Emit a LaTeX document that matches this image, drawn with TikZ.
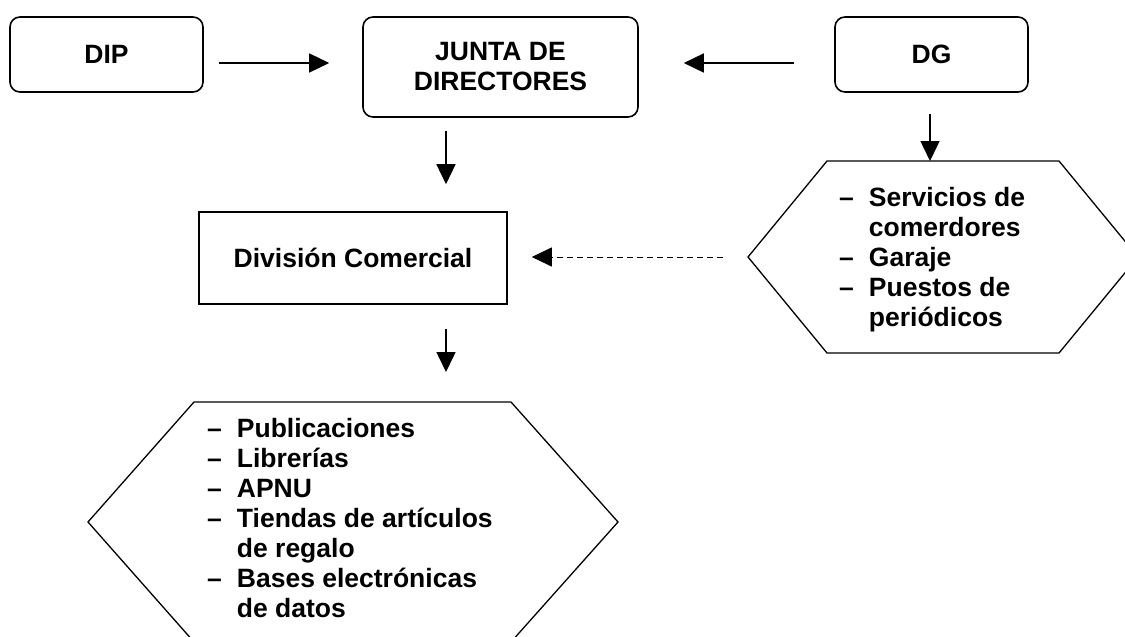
\documentclass[tikz,border=0pt]{standalone}
\usepackage{fontspec}
\setmainfont{Liberation Sans}
\usetikzlibrary{arrows.meta}
\tikzset{
    org-box/.style = {draw, rounded corners=10pt, line width=1.6pt, minimum width=193pt, minimum height=75pt, align=center, inner sep=0pt},
    plain-box/.style = {draw, line width=1.6pt, minimum width=308pt, minimum height=92pt, inner sep=0pt},
    hex-line/.style = {line width=1.3pt, line join=miter},
    list-text/.style = {anchor=north west, inner sep=0pt},
    link/.style = {-{Triangle[length=20pt,width=19pt]}, line width=1.5pt},
    dash-link/.style = {link, line width=1pt, dash pattern=on 6pt off 4pt},
}

\begin{document}
\begin{tikzpicture}[x=1pt, y=-1pt, font=\fontsize{26.5}{30}\selectfont\bfseries]
\useasboundingbox (0,0) rectangle (1125,637);
\clip (0,0) rectangle (1125,637);

% top row
\node[org-box] (dip) at (106.5,54.5) {DIP};
\node[org-box, minimum width=275pt, minimum height=100pt] (junta) at (500.5,67) {JUNTA DE\\DIRECTORES};
\node[org-box] (dg) at (931.5,54.5) {DG};

% middle
\node[plain-box] (comercial) at (353,258) {División Comercial};

% hexagon on the right
\coordinate (serv-w) at (748,257);
\coordinate (serv-n) at (930,161);
\draw[hex-line] (serv-w) -- (827,161) -- (1059,161) -- (1138,257) -- (1059,353) -- (827,353) -- cycle;
\node[list-text] (servicios) at (839,185) {\begin{tabular}{@{}l@{\hspace{15pt}}l@{}}
– & Servicios de\\
  & comerdores\\
– & Garaje\\
– & Puestos de\\
  & periódicos
\end{tabular}};

% hexagon at the bottom
\coordinate (pub-n) at (446,402);
\draw[hex-line] (88,522) -- (194,402) -- (511,402) -- (618,522) -- (511,642) -- (194,642) -- cycle;
\node[list-text] (publicaciones) at (207,416) {\begin{tabular}{@{}l@{\hspace{15pt}}l@{}}
– & Publicaciones\\
– & Librerías\\
– & APNU\\
– & Tiendas de artículos\\
  & de regalo\\
– & Bases electrónicas\\
  & de datos
\end{tabular}};

% arrows
\draw[link, shorten <=15pt, shorten >=33pt] ([yshift=-8.5pt]dip.east) -- ([yshift=4pt]junta.west);
\draw[link, shorten <=40pt, shorten >=45pt] ([yshift=-8.5pt]dg.west) -- ([yshift=4pt]junta.east);
\draw[link, shorten <=13pt, shorten >=27pt] ([xshift=-54.5pt]junta.south) -- ([xshift=93pt]comercial.north);
\draw[link, shorten <=24pt, shorten >=30pt] ([xshift=93pt]comercial.south) -- (pub-n);
\draw[link, shorten <=21pt] ([xshift=-1.5pt]dg.south) -- (serv-n);
\draw[dash-link, shorten <=25pt, shorten >=24pt] (serv-w) -- (serv-w -| comercial.east);
\end{tikzpicture}
\end{document}
